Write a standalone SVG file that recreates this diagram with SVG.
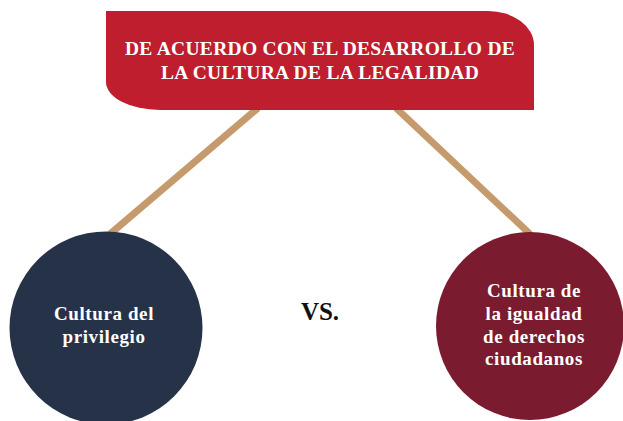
<svg xmlns="http://www.w3.org/2000/svg" width="623" height="421" viewBox="0 0 623 421">
<style>
.t{font-family:"Liberation Serif","DejaVu Serif",serif;font-weight:bold;fill:#fff;text-anchor:middle}
.b{font-size:19.5px;letter-spacing:0.3px}
.c{font-size:19px;letter-spacing:0.6px}
.line{stroke:#C59B6D;stroke-width:7;fill:none}
</style>
<rect width="623" height="421" fill="#fff"/>
<g id="connectors">
<line class="line" x1="258" y1="108" x2="110" y2="234"/>
<line class="line" x1="396" y1="108" x2="530" y2="234"/>
</g>
<g id="banner">
<path d="M106 11 H488 A46 34 0 0 1 534 45 V110 H160 A54 28 0 0 1 106 82 Z" fill="#BE1E2E"/>
<text class="t b" x="320" y="55">DE ACUERDO CON EL DESARROLLO DE</text>
<text class="t b" x="320" y="79">LA CULTURA DE LA LEGALIDAD</text>
</g>
<g id="left">
<circle cx="106" cy="328" r="96.5" fill="#253248"/>
<text class="t c" x="104" y="320">Cultura del</text>
<text class="t c" x="104" y="343">privilegio</text>
</g>
<g id="vs">
<text x="320" y="320" font-family="Liberation Serif,serif" font-weight="bold" font-size="25" text-anchor="middle" fill="#111">VS.</text>
</g>
<g id="right">
<circle cx="530" cy="326" r="94" fill="#7B1B2F"/>
<text class="t c" x="534" y="297">Cultura de</text>
<text class="t c" x="534" y="320">la igualdad</text>
<text class="t c" x="534" y="343">de derechos</text>
<text class="t c" x="534" y="365">ciudadanos</text>
</g>
</svg>
